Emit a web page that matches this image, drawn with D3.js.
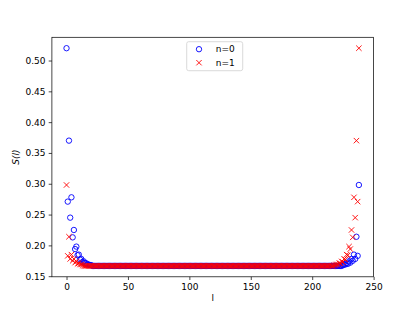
<!DOCTYPE html>
<html>
<head>
<meta charset="utf-8">
<script src="https://cdn.jsdelivr.net/npm/d3@7"></script>
<style>
  body { margin: 0; background: #fff; }
  svg text { font-family: "DejaVu Sans", sans-serif; }
</style>
</head>
<body>
<svg id="chart"></svg>
<script>
// values
const lCount = 239;               // l = 0 .. 238
const plateau = 0.1667;           // flat level in the middle
const n0Head = [0.520, 0.271, 0.370, 0.245, 0.278, 0.213, 0.225, 0.194, 0.198, 0.184,
                0.185, 0.177, 0.178, 0.173, 0.174, 0.171, 0.171, 0.169, 0.169, 0.168, 0.168];
const n0Tail = [0.168, 0.169, 0.169, 0.171, 0.170, 0.174, 0.172, 0.178, 0.175, 0.185,
                0.178, 0.214, 0.183, 0.298];
const n1Head = [0.298, 0.183, 0.214, 0.178, 0.185, 0.175, 0.178, 0.172, 0.174, 0.170,
                0.171, 0.169, 0.169, 0.168];
const n1Tail = [0.168, 0.168, 0.169, 0.169, 0.171, 0.171, 0.174, 0.173, 0.178, 0.177,
                0.185, 0.184, 0.198, 0.194, 0.225, 0.213, 0.278, 0.245, 0.370, 0.271, 0.520];
const xTicks = [0, 50, 100, 150, 200, 250];
const yTicks = [0.15, 0.20, 0.25, 0.30, 0.35, 0.40, 0.45, 0.50];
const seriesNames = ["n=0", "n=1"];

function buildSeries(head, tail){
    let mid = new Array(lCount - head.length - tail.length).fill(plateau);
    return head.concat(mid, tail).map((v, i) => ({l: i, s: v}));
}
const n0 = buildSeries(n0Head, n0Tail);
const n1 = buildSeries(n1Head, n1Tail);

const W = 415, H = 311;
const margin = {left: 51.9, right: 415 - 373.5, top: 37.3, bottom: 311 - 276.8};
const svg = d3.select("#chart").attr("width", W).attr("height", H);

const x = d3.scaleLinear().domain([-11.9, 249.9]).range([margin.left, W - margin.right]);
const y = d3.scaleLinear().domain([0.149, 0.5377]).range([H - margin.bottom, margin.top]);

//axes
const xAxis = svg.append("g")
    .attr("transform", `translate(0,${H - margin.bottom})`)
    .call(d3.axisBottom(x).tickValues(xTicks).tickFormat(d3.format("d")).tickSize(3.2).tickPadding(3.2));
const yAxis = svg.append("g")
    .attr("transform", `translate(${margin.left},0)`)
    .call(d3.axisLeft(y).tickValues(yTicks).tickFormat(d3.format(".2f")).tickSize(3.2).tickPadding(3.2));
[xAxis, yAxis].forEach(g => {
    g.select(".domain").remove();
    g.selectAll("line").attr("stroke", "#000").attr("stroke-width", 0.72);
    g.selectAll("text").attr("font-size", 9).attr("fill", "#000").attr("font-family", "DejaVu Sans");
});

//frame
svg.append("rect")
    .attr("x", margin.left).attr("y", margin.top)
    .attr("width", W - margin.left - margin.right)
    .attr("height", H - margin.top - margin.bottom)
    .attr("fill", "none").attr("stroke", "#000").attr("stroke-width", 0.72);

//labels
svg.append("text")
    .attr("x", (margin.left + W - margin.right) / 2).attr("y", 301)
    .attr("text-anchor", "middle").attr("font-size", 9).text("l");
svg.append("text")
    .attr("transform", `translate(19,${(margin.top + H - margin.bottom) / 2}) rotate(-90)`)
    .attr("text-anchor", "middle").attr("font-size", 9).attr("font-style", "italic").text("S(l)");

//points
const r = 2.7;
svg.append("g").selectAll("circle").data(n0).join("circle")
    .attr("cx", d => x(d.l)).attr("cy", d => y(d.s)).attr("r", r)
    .attr("fill", "none").attr("stroke", "#0000ff").attr("stroke-width", 0.9);

const cross = `M${-r},${-r}L${r},${r}M${-r},${r}L${r},${-r}`;
svg.append("g").selectAll("path").data(n1).join("path")
    .attr("transform", d => `translate(${x(d.l)},${y(d.s)})`)
    .attr("d", cross).attr("fill", "none").attr("stroke", "#ff0000").attr("stroke-width", 0.9);

//legend
const leg = svg.append("g").attr("transform", "translate(186.7,41.7)");
leg.append("rect").attr("width", 56).attr("height", 29).attr("rx", 2)
    .attr("fill", "#fff").attr("fill-opacity", 0.8).attr("stroke", "#ccc").attr("stroke-width", 0.72);
leg.append("circle").attr("cx", 12.3).attr("cy", 7.5).attr("r", r)
    .attr("fill", "none").attr("stroke", "#0000ff").attr("stroke-width", 0.9);
leg.append("path").attr("transform", "translate(12.3,21)").attr("d", cross)
    .attr("fill", "none").attr("stroke", "#ff0000").attr("stroke-width", 0.9);
leg.selectAll("text.lbl").data(seriesNames).join("text").attr("class", "lbl")
    .attr("x", 29).attr("y", (d, i) => 7.5 + i * 13.5).attr("dy", "0.35em")
    .attr("font-size", 9).text(d => d);
</script>
</body>
</html>
